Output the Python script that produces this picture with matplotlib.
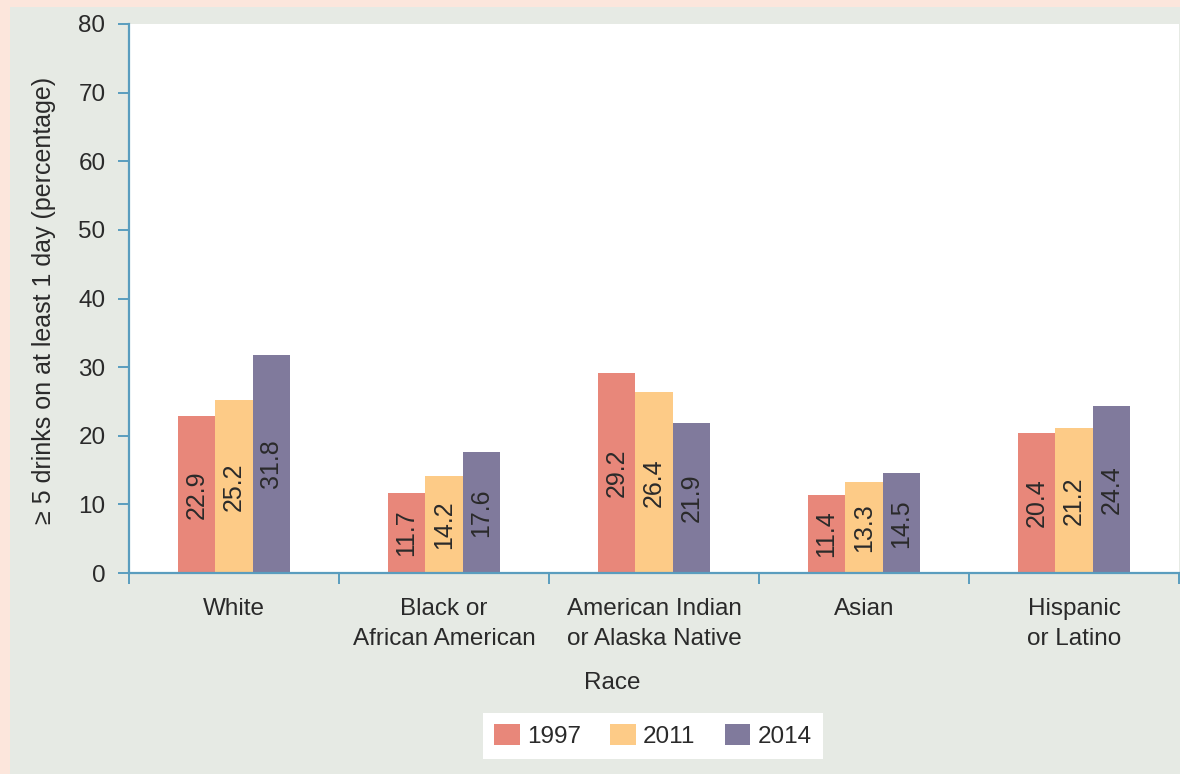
import numpy as np
import matplotlib
matplotlib.use("Agg")
import matplotlib.pyplot as plt
from matplotlib.patches import Rectangle

# binge drinking (>= 5 drinks on at least 1 day) by race, three survey years
races = ["White", "Black or\nAfrican American", "American Indian\nor Alaska Native",
         "Asian", "Hispanic\nor Latino"]
years = ["1997", "2011", "2014"]
pct_1997 = [22.9, 11.7, 29.2, 11.4, 20.4]
pct_2011 = [25.2, 14.2, 26.4, 13.3, 21.2]
pct_2014 = [31.8, 17.6, 21.9, 14.5, 24.4]
yticks = [0, 10, 20, 30, 40, 50, 60, 70, 80]

colors = ["#E8877A", "#FDCB87", "#807A9C"]
axis_color = "#5A9DBE"
text_color = "#2A2A2A"

plt.rcParams["font.family"] = ["Liberation Sans", "DejaVu Sans"]

fig = plt.figure(figsize=(11.8, 7.74), dpi=100)
fig.patch.set_facecolor("#FCE6DC")
# grey panel inside the pink frame
fig.add_artist(Rectangle((10 / 1180, 0), 1, 1 - 7 / 774, transform=fig.transFigure,
                         facecolor="#E6EAE4", edgecolor="none", zorder=0))

ax = fig.add_axes([129 / 1180, 1 - 573 / 774, 1050 / 1180, (573 - 24) / 774])
ax.set_facecolor("white")

x = np.arange(len(races))
w = 0.178
series = [pct_1997, pct_2011, pct_2014]
for i, (vals, c, yr) in enumerate(zip(series, colors, years)):
    bars = ax.bar(x + (i - 1) * w, vals, width=w, color=c, label=yr, zorder=2)
    for b, v in zip(bars, vals):
        ax.text(b.get_x() + b.get_width() / 2, v / 2, f"{v:.1f}", rotation=90,
                ha="center", va="center", fontsize=18, color=text_color, zorder=3)

ax.set_xlim(-0.5, len(races) - 0.5)
ax.set_ylim(0, 80)
ax.set_yticks(yticks)

for side in ["top", "right"]:
    ax.spines[side].set_visible(False)
for side in ["left", "bottom"]:
    ax.spines[side].set_color(axis_color)
    ax.spines[side].set_linewidth(1.6)
    ax.spines[side].set_zorder(4)

ax.tick_params(axis="y", colors=axis_color, labelcolor=text_color, labelsize=17.5,
               length=8, width=1.4, pad=9)
ax.set_xticks(x)
ax.set_xticklabels(races, fontsize=17.5, color=text_color, linespacing=1.45)
ax.tick_params(axis="x", length=0, pad=18)
ax.set_xticks(np.arange(-0.5, len(races) + 0.5, 1), minor=True)
ax.tick_params(axis="x", which="minor", colors=axis_color, length=8, width=1.4)

fig.text(44 / 1180, 1 - 300 / 774, "\u2265 5 drinks on at least 1 day (percentage)",
         rotation=90, ha="center", va="center", fontsize=18, color=text_color)
fig.text(612 / 1180, 1 - 683 / 774, "Race", ha="center", va="center",
         fontsize=17.5, color=text_color)

leg = fig.legend(loc="center", bbox_to_anchor=(653 / 1180, 1 - 736 / 774), ncol=3,
                 fontsize=17.5, frameon=True, fancybox=False, facecolor="white",
                 edgecolor="none", framealpha=1, handlelength=1.05, handleheight=0.95,
                 handletextpad=0.3, columnspacing=1.2, borderpad=0.45)
for t in leg.get_texts():
    t.set_color(text_color)

fig.savefig("out.png", dpi=100, facecolor=fig.get_facecolor())
